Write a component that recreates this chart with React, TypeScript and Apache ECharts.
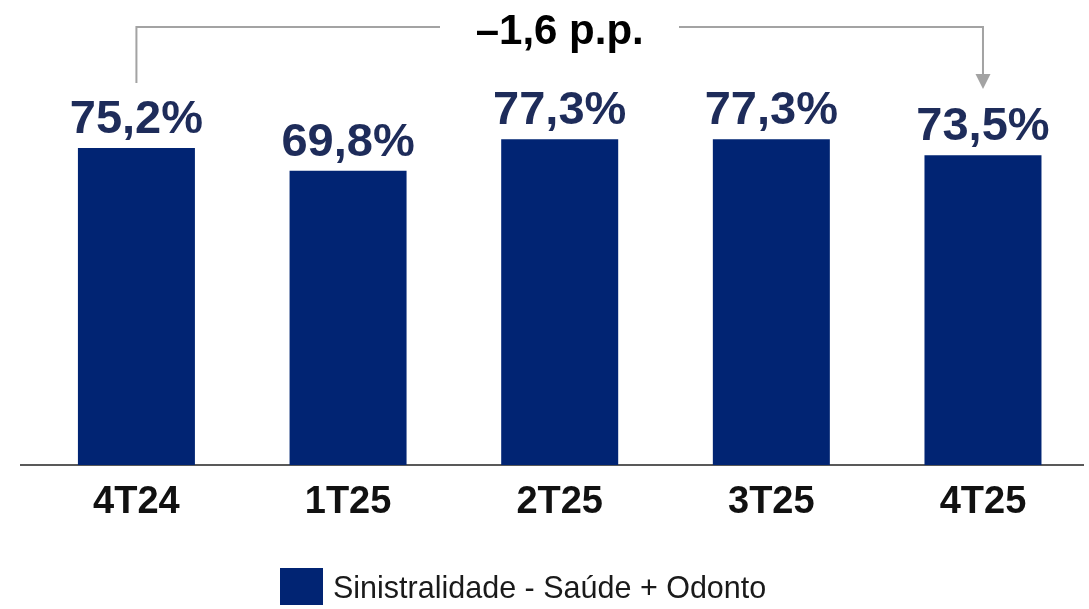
import React, { useEffect, useRef } from "react";
import * as echarts from "echarts";

const categories = ["4T24", "1T25", "2T25", "3T25", "4T25"];
const values = [75.2, 69.8, 77.3, 77.3, 73.5];
const seriesName = "Sinistralidade - Saúde + Odonto";
const deltaLabel = "–1,6 p.p.";

const fmt = (v: number) => v.toFixed(1).replace(".", ",") + "%";

export default function App() {
  const ref = useRef<HTMLDivElement>(null);
  useEffect(() => {
    if (!ref.current) return;
    const chart = echarts.init(ref.current, undefined, { renderer: "svg" });
    const grey = "#a3a3a3";
    chart.setOption({
      animation: false,
      grid: { left: 30.6, right: 0.2, top: 43.5, bottom: 144 },
      legend: {
        left: 280,
        top: 568,
        itemWidth: 43,
        itemHeight: 37,
        icon: "rect",
        padding: 0,
        textStyle: {
          fontFamily: "'Liberation Sans', Arial, sans-serif",
          fontSize: 30.5,
          color: "#1a1a1a",
          padding: [0, 0, 0, 5],
        },
        data: [seriesName],
      },
      xAxis: {
        type: "category",
        data: categories,
        axisLine: { show: false },
        axisTick: { show: false },
        axisLabel: {
          margin: 16,
          fontFamily: "'Liberation Sans', Arial, sans-serif",
          fontWeight: "bold",
          fontSize: 38,
          color: "#111111",
        },
      },
      yAxis: { type: "value", min: 0, max: 100, show: false, splitLine: { show: false } },
      series: [
        {
          name: seriesName,
          type: "bar",
          data: values,
          barWidth: 117,
          itemStyle: { color: "#012473" },
          label: {
            show: true,
            position: "top",
            distance: 8,
            formatter: (p: any) => fmt(p.value),
            fontFamily: "'Liberation Sans', Arial, sans-serif",
            fontWeight: "bold",
            fontSize: 47,
            color: "#1e2c5a",
          },
        },
      ],
    });

    const x0 = chart.convertToPixel({ xAxisIndex: 0 }, categories[0]) as number;
    const x4 = chart.convertToPixel({ xAxisIndex: 0 }, categories[categories.length - 1]) as number;
    const yBase = chart.convertToPixel({ yAxisIndex: 0 }, 0) as number;
    const topY = 27;
    const midX = (x0 + x4) / 2;
    chart.setOption({
      graphic: [
        { type: "line", shape: { x1: 20, y1: yBase, x2: 1084, y2: yBase }, style: { stroke: "#222", lineWidth: 1.5 } },
        {
          type: "polyline",
          shape: { points: [[x0, 83], [x0, topY], [440, topY]] },
          style: { stroke: grey, lineWidth: 2, fill: null },
        },
        {
          type: "polyline",
          shape: { points: [[679, topY], [x4, topY], [x4, 76]] },
          style: { stroke: grey, lineWidth: 2, fill: null },
        },
        {
          type: "polygon",
          shape: { points: [[x4 - 7.5, 74], [x4 + 7.5, 74], [x4, 89]] },
          style: { fill: grey },
        },
        {
          type: "text",
          x: midX,
          y: 50,
          style: {
            text: deltaLabel,
            fontFamily: "'Liberation Sans', Arial, sans-serif",
            fontWeight: "bold",
            fontSize: 42,
            fill: "#000",
            align: "center",
            verticalAlign: "bottom",
          },
        },
      ],
    });
    return () => chart.dispose();
  }, []);
  return <div ref={ref} style={{ position: "fixed", left: 0, top: 0, width: 1089, height: 609 }} />;
}
